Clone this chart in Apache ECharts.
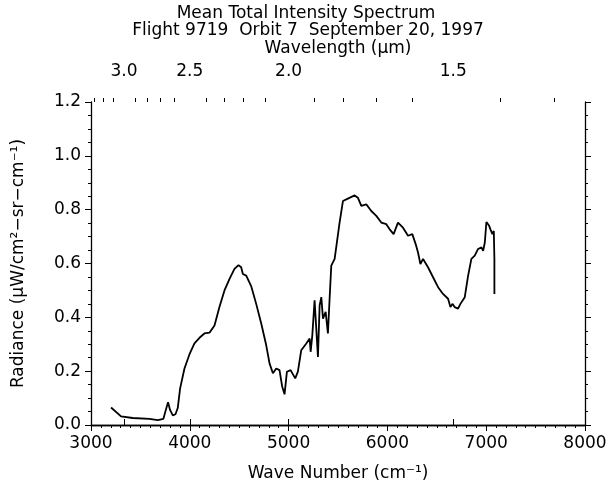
<!DOCTYPE html>
<html>
<head>
<meta charset="utf-8">
<script src="https://cdn.jsdelivr.net/npm/echarts@6/dist/echarts.min.js"></script>
<style>
  html, body { margin: 0; padding: 0; background: #fff; }
  #chart { width: 613px; height: 487px; }
</style>
</head>
<body>
<div id="chart"></div>
<script>
// spectrum: wave number (cm^-1) and radiance
const waveNumber = [
  3203, 3304, 3422, 3591, 3676, 3733, 3753, 3780, 3800, 3828, 3855, 3878, 3902, 3946, 3996,
  4047, 4098, 4148, 4199, 4250, 4300, 4351, 4402, 4452, 4493, 4520, 4537, 4571, 4621, 4672,
  4723, 4773, 4807, 4841, 4875, 4908, 4935, 4959, 4983, 5020, 5067, 5094, 5128, 5179, 5213,
  5223, 5240, 5263, 5280, 5297, 5314, 5331, 5348, 5375, 5398, 5415, 5432, 5466, 5516, 5550,
  5600, 5668, 5702, 5736, 5786, 5837, 5888, 5938, 5989, 6023, 6063, 6107, 6158, 6209, 6252,
  6286, 6310, 6334, 6361, 6411, 6462, 6513, 6563, 6614, 6638, 6658, 6681, 6715, 6739, 6783,
  6817, 6850, 6884, 6918, 6952, 6969, 6986, 7002, 7030, 7043, 7063, 7077, 7083, 7083
];
const radiance = [
  0.065, 0.032, 0.026, 0.023, 0.018, 0.023, 0.050, 0.085, 0.056, 0.036, 0.040, 0.063, 0.136, 0.210, 0.262,
  0.303, 0.324, 0.340, 0.343, 0.370, 0.438, 0.500, 0.543, 0.580, 0.594, 0.586, 0.561, 0.555, 0.516, 0.450,
  0.377, 0.297, 0.229, 0.192, 0.210, 0.204, 0.143, 0.114, 0.198, 0.204, 0.173, 0.198, 0.278, 0.303, 0.321,
  0.272, 0.333, 0.463, 0.457, 0.253, 0.444, 0.475, 0.395, 0.420, 0.340, 0.469, 0.592, 0.617, 0.752, 0.832,
  0.841, 0.853, 0.844, 0.814, 0.820, 0.795, 0.777, 0.752, 0.746, 0.727, 0.709, 0.752, 0.733, 0.703, 0.709,
  0.672, 0.641, 0.598, 0.617, 0.586, 0.549, 0.512, 0.487, 0.469, 0.438, 0.450, 0.438, 0.432, 0.450, 0.475,
  0.555, 0.617, 0.629, 0.654, 0.660, 0.647, 0.678, 0.754, 0.740, 0.727, 0.709, 0.721, 0.617, 0.487
];

// top axis: wavelength in micrometres
const wlLabels = [3.0, 2.5, 2.0, 1.5];
const wlMinor = [3.3, 3.2, 3.1, 2.9, 2.8, 2.7, 2.6, 2.4, 2.3, 2.2, 2.1, 1.9, 1.8, 1.7, 1.6, 1.4, 1.3];

const toWn = (wl) => 10000 / wl;

const font = "DejaVu Sans";
const fs = 17;

let chart = echarts.init(document.getElementById("chart"));

const axisLine = { lineStyle: { color: "#000", width: 1.3 } };

const option = {
  animation: false,
  backgroundColor: "#fff",
  textStyle: { fontFamily: font, color: "#000" },
  title: [
    {
      text: "Mean Total Intensity Spectrum",
      left: 301,
      top: 0,
      textAlign: "center",
      textStyle: { fontFamily: font, fontSize: fs, fontWeight: "normal", color: "#000" },
    },
    {
      text: "Flight 9719  Orbit 7  September 20, 1997",
      left: 303,
      top: 17,
      textAlign: "center",
      textStyle: { fontFamily: font, fontSize: fs, fontWeight: "normal", color: "#000" },
    },
  ],
  grid: { left: 91, right: 28, top: 102, bottom: 60 },
  xAxis: [
    {
      type: "value",
      min: 3000,
      max: 8000,
      interval: 1000,
      name: "Wave Number (cm\u207B\u00B9)",
      nameLocation: "middle",
      nameGap: 40,
      nameTextStyle: { fontFamily: font, fontSize: fs, color: "#000" },
      axisLine: axisLine,
      axisTick: { show: true, inside: false, length: 6, lineStyle: { color: "#000" } },
      minorTick: { show: true, splitNumber: 10, length: 3, lineStyle: { color: "#000" } },
      splitLine: { show: false },
      axisLabel: {
        fontFamily: font,
        fontSize: fs,
        color: "#000",
        margin: 10,
        formatter: (v) => String(v),
      },
    },
    {
      type: "value",
      position: "top",
      min: 3000,
      max: 8000,
      name: "Wavelength (\u03BCm)",
      nameLocation: "middle",
      nameGap: 45,
      nameTextStyle: { fontFamily: font, fontSize: fs, color: "#000" },
      axisLine: axisLine,
      axisTick: {
        show: true,
        length: 6,
        customValues: wlLabels.map(toWn),
        lineStyle: { color: "#000" },
      },
      splitLine: { show: false },
      axisLabel: {
        fontFamily: font,
        fontSize: fs,
        color: "#000",
        margin: 22,
        customValues: wlLabels.map(toWn),
        formatter: (v) => (10000 / v).toFixed(1),
      },
    },
    {
      type: "value",
      position: "top",
      min: 3000,
      max: 8000,
      axisLine: { show: false },
      axisTick: {
        show: true,
        length: 4,
        customValues: wlMinor.map(toWn),
        lineStyle: { color: "#000" },
      },
      splitLine: { show: false },
      axisLabel: { show: false },
    },
  ],
  yAxis: [
    {
      type: "value",
      min: 0,
      max: 1.2,
      interval: 0.2,
      name: "Radiance (\u03BCW/cm\u00B2\u2212sr\u2212cm\u207B\u00B9)",
      nameLocation: "middle",
      nameGap: 64,
      nameTextStyle: { fontFamily: font, fontSize: fs, color: "#000" },
      axisLine: { show: true, lineStyle: { color: "#000", width: 1.3 } },
      axisTick: { show: true, length: 6, lineStyle: { color: "#000" } },
      minorTick: { show: true, splitNumber: 4, length: 3, lineStyle: { color: "#000" } },
      splitLine: { show: false },
      axisLabel: {
        fontFamily: font,
        fontSize: fs,
        color: "#000",
        margin: 10,
        formatter: (v) => v.toFixed(1),
      },
    },
    {
      type: "value",
      position: "right",
      min: 0,
      max: 1.2,
      interval: 0.2,
      axisLine: { show: true, lineStyle: { color: "#000", width: 1.3 } },
      axisTick: { show: true, length: 6, lineStyle: { color: "#000" } },
      minorTick: { show: true, splitNumber: 4, length: 3, lineStyle: { color: "#000" } },
      splitLine: { show: false },
      axisLabel: { show: false },
    },
  ],
  series: [
    {
      type: "line",
      xAxisIndex: 0,
      yAxisIndex: 0,
      showSymbol: false,
      data: waveNumber.map((w, i) => [w, radiance[i]]),
      lineStyle: { color: "#000", width: 1.8 },
    },
  ],
};

chart.setOption(option);
</script>
</body>
</html>
